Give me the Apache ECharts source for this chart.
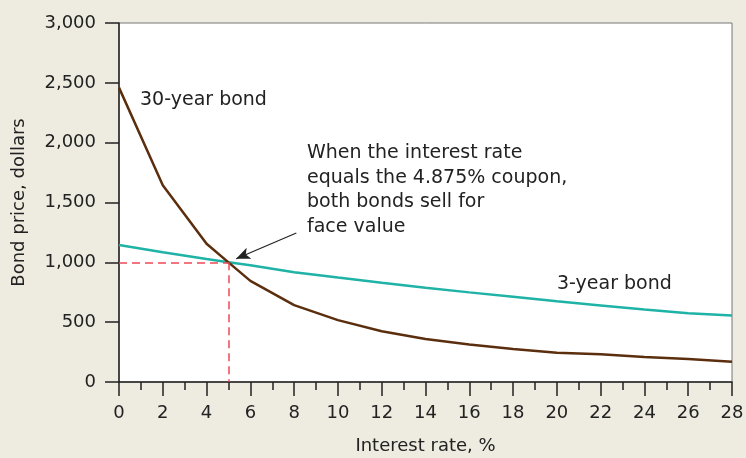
<!DOCTYPE html>
<html><head><meta charset="utf-8">
<script src="https://cdn.jsdelivr.net/npm/echarts@6/dist/echarts.min.js"></script>
<style>html,body{margin:0;padding:0;background:#eeebe0}#c{width:746px;height:458px}</style>
</head><body><div id="c"></div>
<script>
const rates = [0, 2, 4, 5, 6, 8, 10, 12, 14, 16, 18, 20, 22, 24, 26, 28];
const bond30 = [2460, 1645, 1155, 1000, 845, 642, 517, 424, 360, 313, 275, 245, 232, 209, 192, 170];
const bond3  = [1145, 1085, 1028, 1000, 975, 918, 873, 829, 788, 749, 713, 675, 640, 605, 575, 555];
const yTicks = [0, 500, 1000, 1500, 2000, 2500, 3000];
const crossRate = 5, face = 1000;
const arrowFrom = [8.1, 1245], arrowTo = [5.35, 1030];

const font = '"DejaVu Sans", sans-serif';
const chart = echarts.init(document.getElementById('c'));
chart.setOption({
  backgroundColor: '#eeebe0',
  animation: false,
  grid: {left: 119, right: 14, top: 23, bottom: 76, show: true, backgroundColor: '#ffffff', borderColor: '#777', borderWidth: 1,
         containLabel: false, outerBoundsMode: 'none'},
  xAxis: {
    type: 'value', min: 0, max: 28, interval: 2,
    name: 'Interest rate, %', nameLocation: 'middle', nameGap: 55,
    nameTextStyle: {fontFamily: font, fontSize: 18, color: '#222'},
    axisLine: {lineStyle: {color: '#222', width: 1.5}},
    axisTick: {length: 14, lineStyle: {color: '#222', width: 1.5}},
    minorTick: {show: true, splitNumber: 2, length: 8, lineStyle: {color: '#222', width: 1.5}},
    axisLabel: {fontFamily: font, fontSize: 18, color: '#222', margin: 22},
    splitLine: {show: false}
  },
  yAxis: {
    type: 'value', min: 0, max: 3000, interval: 500,
    name: 'Bond price, dollars', nameLocation: 'middle', nameGap: 91, nameRotate: 90,
    nameTextStyle: {fontFamily: font, fontSize: 18, color: '#222'},
    axisLine: {show: true, lineStyle: {color: '#222', width: 1.5}},
    axisTick: {show: true, length: 14, lineStyle: {color: '#222', width: 1.5}},
    axisLabel: {fontFamily: font, fontSize: 18, color: '#222', margin: 23,
      formatter: v => yTicks.includes(v) ? v.toLocaleString('en-US') : ''},
    splitLine: {show: false}
  },
  series: [
    {type: 'line', name: '3-year bond', data: rates.map((r, i) => [r, bond3[i]]), showSymbol: false,
     lineStyle: {color: '#1eb3a6', width: 2.5}, z: 3},
    {type: 'line', name: '30-year bond', data: rates.map((r, i) => [r, bond30[i]]), showSymbol: false,
     lineStyle: {color: '#5b2e0e', width: 2.5}, z: 4,
     markLine: {silent: true, symbol: ['none', 'none'], label: {show: false},
       lineStyle: {color: '#ee4a57', type: [8, 5], width: 1.5},
       data: [
         [{coord: [0, face]}, {coord: [crossRate, face]}],
         [{coord: [crossRate, face]}, {coord: [crossRate, 0]}]
       ]}},
    {type: 'line', data: [], markLine: {silent: true, symbol: ['none', 'arrow'], symbolSize: [9, 14], label: {show: false},
       lineStyle: {color: '#222', type: 'solid', width: 1.2},
       data: [[{coord: arrowFrom}, {coord: arrowTo}]]}}
  ],
  graphic: [
    {type: 'text', left: 140, top: 91, style: {text: '30-year bond', font: '19px ' + font, fill: '#222'}},
    {type: 'text', left: 557, top: 275, style: {text: '3-year bond', font: '19px ' + font, fill: '#222'}},
    {type: 'text', left: 307, top: 141, style: {text: 'When the interest rate\nequals the 4.875% coupon,\nboth bonds sell for\nface value', font: '19px ' + font, fill: '#222', lineHeight: 24.5}}
  ]
});
</script></body></html>
